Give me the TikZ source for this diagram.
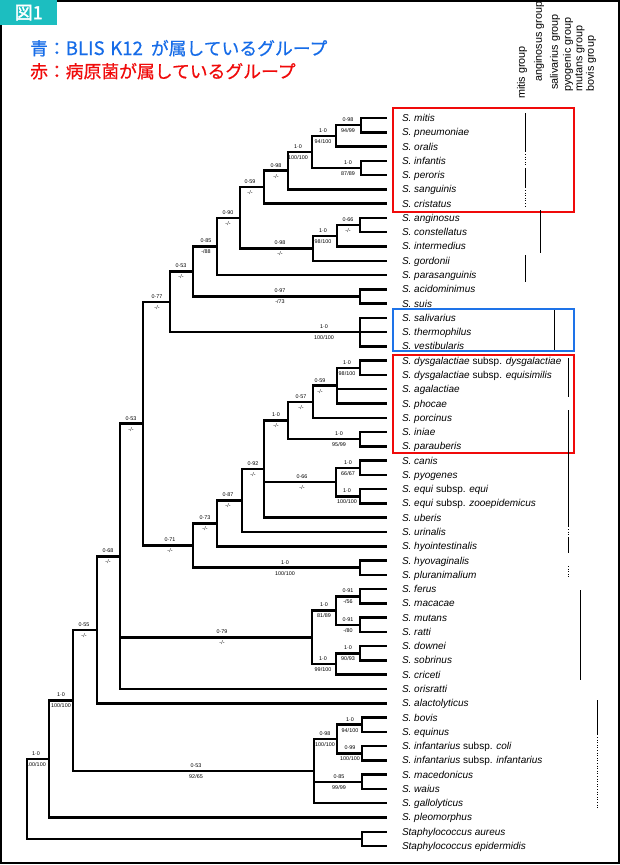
\documentclass[tikz,border=0pt]{standalone}
\usepackage{fontspec}
\setmainfont{Liberation Sans}
\newfontfamily\cjk[FakeBold=0.5]{Noto Sans CJK JP}
\newfontfamily\cjkb[FakeBold=1.8]{Noto Sans CJK JP}
\definecolor{tealc}{RGB}{28,190,192}
\definecolor{bluec}{RGB}{22,108,232}
\definecolor{redc}{RGB}{240,10,10}
\definecolor{boxblue}{RGB}{30,115,232}
\newcommand\bsl[5]{%
  \node[bs] (#1u) at (#2,{#3-5.5}) {#4};
  \node[bs] (#1d) at (#2,{#3+5.5}) {#5};}
\begin{document}
\begin{tikzpicture}[x=1pt,y=-1pt,
  br/.style={line width=2.5pt, line join=miter, line cap=rect},
  leaf/.style={anchor=west, inner sep=0pt, outer xsep=16pt, text height=7pt, text depth=0pt,
    font=\itshape\fontsize{10}{12}\selectfont},
  bs/.style={inner sep=0pt, font=\fontsize{5.4}{6}\selectfont},
  grp/.style={rotate=90, anchor=west, inner sep=0pt, font=\fontsize{10.8}{12}\selectfont},
  bar/.style={line width=1pt},
  dbar/.style={line width=1pt, dash pattern=on 1pt off 1.6pt}]
\useasboundingbox (0,0) rectangle (620,865);
\fill[white] (0,0) rectangle (620,865);
\draw[line width=2pt] (1.2,1.2) rectangle (618.6,863.4);
\node[fill=tealc, minimum width=57pt, minimum height=25pt, anchor=north west, inner sep=0pt,
  text=white, font=\cjkb\fontsize{18}{18}\selectfont] (fig) at (0,0) {図1};
\node[anchor=base west, inner sep=0pt, text=bluec, font=\cjk\fontsize{17.8}{20}\selectfont] (h1) at (30,55) {青：{\fontsize{18.6}{20}\selectfont BLIS\hspace{0.3em}K12}\hspace{0.45em}が属しているグループ};
\node[anchor=base west, inner sep=0pt, text=redc, font=\cjk\fontsize{17.8}{20}\selectfont] (h2) at (30,78) {赤：病原菌が属しているグループ};

% group labels
\node[grp] (g1) at (522,99) {mitis group};
\node[grp] (g2) at (539,82) {anginosus group};
\node[grp] (g3) at (555,90) {salivarius group};
\node[grp] (g4) at (568,92) {pyogenic group};
\node[grp] (g5) at (580,92) {mutans group};
\node[grp] (g6) at (591,92) {bovis group};

% leaves
\foreach \i/\t in {0/{S. mitis},1/{S. pneumoniae},2/{S. oralis},3/{S. infantis},4/{S. peroris},
  5/{S. sanguinis},6/{S. cristatus},7/{S. anginosus},8/{S. constellatus},9/{S. intermedius},
  10/{S. gordonii},11/{S. parasanguinis},12/{S. acidominimus},13/{S. suis},14/{S. salivarius},
  15/{S. thermophilus},16/{S. vestibularis},17/{S. dysgalactiae \textup{subsp.} dysgalactiae},
  18/{S. dysgalactiae \textup{subsp.} equisimilis},19/{S. agalactiae},20/{S. phocae},
  21/{S. porcinus},22/{S. iniae},23/{S. parauberis},24/{S. canis},25/{S. pyogenes},
  26/{S. equi \textup{subsp.} equi},27/{S. equi \textup{subsp.} zooepidemicus},28/{S. uberis},
  29/{S. urinalis},30/{S. hyointestinalis},31/{S. hyovaginalis},32/{S. pluranimalium},
  33/{S. ferus},34/{S. macacae},35/{S. mutans},36/{S. ratti},37/{S. downei},38/{S. sobrinus},
  39/{S. criceti},40/{S. orisratti},41/{S. alactolyticus},42/{S. bovis},43/{S. equinus},
  44/{S. infantarius \textup{subsp.} coli},45/{S. infantarius \textup{subsp.} infantarius},
  46/{S. macedonicus},47/{S. waius},48/{S. gallolyticus},49/{S. pleomorphus},
  50/{Staphylococcus aureus},51/{Staphylococcus epidermidis}}
  {\node[leaf] (l\i) at (386,{118+14.275*\i}) {\t};}

% internal nodes
\coordinate (nmp) at (361,125.15);
\coordinate (nmpo) at (336,135.9);
\coordinate (nip) at (361,167.95);
\coordinate (nmit) at (312,151.9);
\coordinate (nsan) at (288,170.65);
\coordinate (ncri) at (264,187.2);
\coordinate (nac) at (360,225.05);
\coordinate (naci) at (337,235.8);
\coordinate (ngor) at (313,248.3);
\coordinate (nA) at (240,217.75);
\coordinate (nB) at (217,246.4);
\coordinate (nas) at (360,296.45);
\coordinate (nC) at (193,271.4);
\coordinate (nsal) at (360,332.15);
\coordinate (nD) at (170,301.8);
\coordinate (ndd) at (360,367.85);
\coordinate (nE) at (337,385.7);
\coordinate (nF) at (313,401.75);
\coordinate (nipa) at (360,439.2);
\coordinate (nG) at (288,420.5);
\coordinate (ncp) at (360,467.75);
\coordinate (neq) at (360,496.3);
\coordinate (nH) at (336,482.0);
\coordinate (nI) at (264,469.1);
\coordinate (nJ) at (242,500.55);
\coordinate (nK) at (217,523.4);
\coordinate (nhp) at (360,567.65);
\coordinate (nL) at (193,545.5);
\coordinate (nM) at (143,423.65);
\coordinate (nfm) at (360,596.25);
\coordinate (nmr) at (360,624.75);
\coordinate (nN) at (336,610.5);
\coordinate (nds) at (360,653.35);
\coordinate (nO) at (336,664.0);
\coordinate (nmut) at (312,637.25);
\coordinate (nP) at (120,556.3);
\coordinate (nQ) at (97,629.8);
\coordinate (nbe) at (362,724.7);
\coordinate (ninf) at (362,753.25);
\coordinate (nR) at (337,739.0);
\coordinate (nmw) at (362,781.8);
\coordinate (nbov) at (314,771.1);
\coordinate (nS) at (73,700.45);
\coordinate (nT) at (49,758.98);
\coordinate (nst) at (362,838.9);
\coordinate (nroot) at (27,798.9);

% edges to leaves
\foreach \p/\c in {nmp/0,nmp/1,nmpo/2,nip/3,nip/4,nsan/5,ncri/6,nac/7,nac/8,naci/9,ngor/10,
  nB/11,nas/12,nas/13,nsal/14,nsal/15,nsal/16,ndd/17,ndd/18,nE/19,nE/20,nF/21,nipa/22,nipa/23,
  ncp/24,ncp/25,neq/26,neq/27,nI/28,nJ/29,nK/30,nhp/31,nhp/32,nfm/33,nfm/34,nmr/35,nmr/36,
  nds/37,nds/38,nO/39,nP/40,nQ/41,nbe/42,nbe/43,ninf/44,ninf/45,nmw/46,nmw/47,nbov/48,
  nT/49,nst/50,nst/51}
  {\draw[br] (\p) |- (l\c.west);}
% edges between internal nodes
\foreach \p/\c in {nmpo/nmp,nmit/nmpo,nmit/nip,nsan/nmit,ncri/nsan,naci/nac,ngor/naci,
  nA/ncri,nA/ngor,nB/nA,nC/nB,nC/nas,nD/nC,nD/nsal,nE/ndd,nF/nE,nG/nF,nG/nipa,nH/ncp,nH/neq,
  nI/nG,nI/nH,nJ/nI,nK/nJ,nL/nK,nL/nhp,nM/nD,nM/nL,nN/nfm,nN/nmr,nO/nds,nmut/nN,nmut/nO,
  nP/nM,nP/nmut,nQ/nP,nR/nbe,nR/ninf,nbov/nR,nbov/nmw,nS/nQ,nS/nbov,nT/nS,nroot/nT,nroot/nst}
  {\draw[br] (\p) |- (\c);}

% support values
\bsl{bmp}{348}{125.15}{0·98}{94/99}
\bsl{bmpo}{323}{135.9}{1·0}{94/100}
\bsl{bip}{348}{167.95}{1·0}{87/89}
\bsl{bmit}{298}{151.9}{1·0}{100/100}
\bsl{bsan}{276}{170.65}{0·98}{-/-}
\bsl{bcri}{250}{187.2}{0·59}{-/-}
\bsl{bA}{228}{217.75}{0·90}{-/-}
\bsl{bB}{206}{246.4}{0·85}{-/88}
\bsl{bC}{181}{271.4}{0·53}{-/-}
\bsl{bac}{348}{225.05}{0·66}{-/-}
\bsl{baci}{323}{235.8}{1·0}{98/100}
\bsl{bgor}{280}{248.3}{0·98}{-/-}
\bsl{bas}{280}{296.45}{0·97}{-/73}
\bsl{bD}{157}{301.8}{0·77}{-/-}
\bsl{bsal}{324}{332.15}{1·0}{100/100}
\bsl{bdd}{347}{367.85}{1·0}{98/100}
\bsl{bE}{320}{385.7}{0·59}{-/-}
\bsl{bF}{301}{401.75}{0·57}{-/-}
\bsl{bG}{276}{420.5}{1·0}{-/-}
\bsl{bipa}{339}{439.2}{1·0}{95/99}
\bsl{bI}{253}{469.1}{0·92}{-/-}
\bsl{bcp}{348}{467.75}{1·0}{66/67}
\bsl{beq}{347}{496.3}{1·0}{100/100}
\bsl{bH}{302}{482}{0·66}{-/-}
\bsl{bJ}{228}{500.55}{0·87}{-/-}
\bsl{bK}{205}{523.4}{0·73}{-/-}
\bsl{bL}{170}{545.5}{0·71}{-/-}
\bsl{bhp}{285}{567.65}{1·0}{100/100}
\bsl{bM}{131}{423.65}{0·53}{-/-}
\bsl{bP}{108}{556.3}{0·68}{-/-}
\bsl{bQ}{84}{629.8}{0·55}{-/-}
\bsl{bfm}{348}{596.25}{0·91}{-/56}
\bsl{bmr}{348}{624.75}{0·91}{-/80}
\bsl{bN}{324}{610.5}{1·0}{81/89}
\bsl{bds}{348}{653.35}{1·0}{90/93}
\bsl{bO}{323}{664}{1·0}{99/100}
\bsl{bmut}{222}{637.25}{0·79}{-/-}
\bsl{bS}{61}{700.45}{1·0}{100/100}
\bsl{bbe}{350}{724.7}{1·0}{94/100}
\bsl{binf}{350}{753.25}{0·99}{100/100}
\bsl{bR}{325}{739}{0·98}{100/100}
\bsl{bmw}{339}{781.8}{0·85}{99/99}
\bsl{bbov}{196}{771.1}{0·53}{92/65}
\bsl{bT}{36}{758.98}{1·0}{100/100}

% coloured boxes
\draw[redc, line width=2pt] (393,108) rectangle (574,212);
\draw[boxblue, line width=2pt] (393,309) rectangle (574,351);
\draw[redc, line width=2pt] (393,355) rectangle (574,453);

% group bars
\draw[bar] (525,113) -- (525,152);
\draw[dbar] (525,154) -- (525,167);
\draw[bar] (525,168) -- (525,188);
\draw[dbar] (525,190) -- (525,208);
\draw[bar] (540,210) -- (540,253);
\draw[bar] (525,255) -- (525,282);
\draw[bar] (554,310) -- (554,350);
\draw[bar] (568,358) -- (568,397);
\draw[bar] (568,410) -- (568,527);
\draw[dbar] (568,529) -- (568,537);
\draw[bar] (568,538) -- (568,553);
\draw[dbar] (568,566) -- (568,579);
\draw[bar] (580,590) -- (580,680);
\draw[bar] (597,700) -- (597,735);
\draw[dbar] (597,737) -- (597,808);
\end{tikzpicture}
\end{document}
